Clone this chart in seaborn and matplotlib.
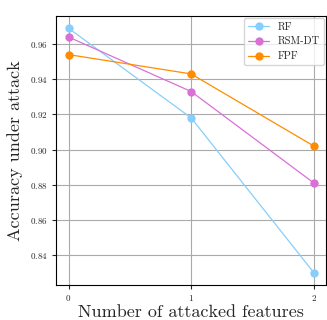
import matplotlib
matplotlib.use("Agg")
import matplotlib.pyplot as plt
import seaborn as sns
import pandas as pd

n_features = [0, 1, 2]
rf = [0.969, 0.918, 0.830]
rsm_dt = [0.964, 0.933, 0.881]
fpf = [0.954, 0.943, 0.902]
methods = ["RF", "RSM-DT", "FPF"]
colors = ["#87CEFA", "#DA70D6", "#FF8C00"]

df = pd.DataFrame({
    "features": n_features * 3,
    "acc": rf + rsm_dt + fpf,
    "method": [m for m in methods for _ in n_features],
})

sns.set_style("ticks")
plt.rcParams["font.family"] = ["cmr10", "DejaVu Serif"]
plt.rcParams["axes.formatter.use_mathtext"] = True

fig, ax = plt.subplots(figsize=(3.27, 3.2), dpi=100)
sns.lineplot(data=df, x="features", y="acc", hue="method", hue_order=methods,
             palette=colors, marker="o", markersize=6, markeredgewidth=0,
             linewidth=0.9, ax=ax)
ax.set_xticks(n_features)
ax.set_xlabel("Number of attacked features", fontsize=13, labelpad=1)
ax.set_ylabel("Accuracy under attack", fontsize=13, labelpad=5)
ax.tick_params(labelsize=6.5, length=3, pad=3)
ax.grid(True, color="#aaaaaa", linewidth=0.8)
ax.margins(x=0.05, y=0.05)
for s in ax.spines.values():
    s.set_color("black")
    s.set_linewidth(0.8)
leg = ax.legend(loc="upper right", fontsize=7.5, frameon=True, framealpha=0.8,
                borderaxespad=0.2)
leg.get_frame().set_edgecolor("#cccccc")
fig.subplots_adjust(left=0.172, right=0.997, top=0.95, bottom=0.11)
fig.savefig("out.png", dpi=100)
